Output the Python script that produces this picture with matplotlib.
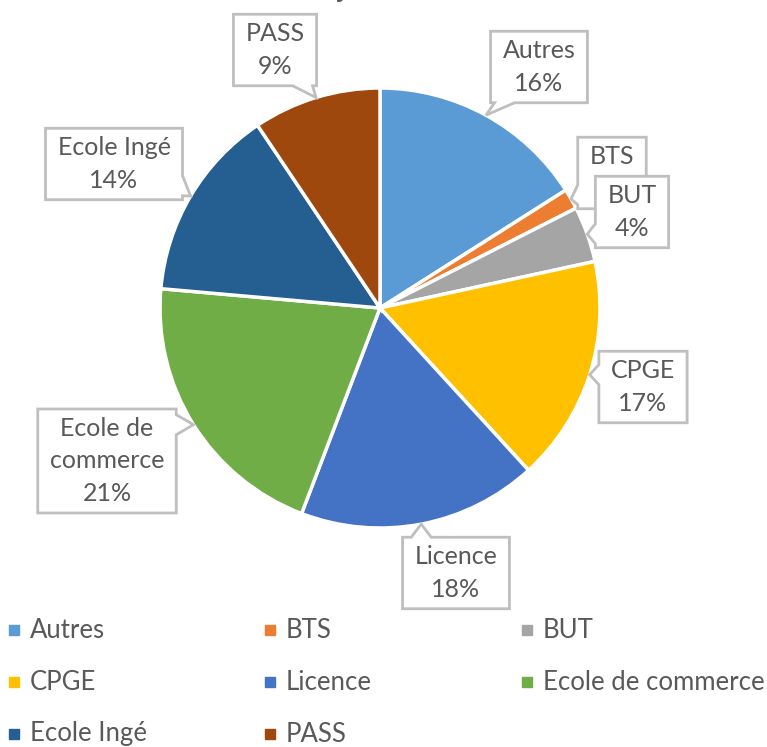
import numpy as np
import matplotlib
matplotlib.use("Agg")
from matplotlib import pyplot as plt
from matplotlib.patches import Polygon

plt.rcParams["font.family"] = ["Lato", "DejaVu Sans"]

# data
categories = ["Autres", "BTS", "BUT", "CPGE", "Licence", "Ecole de commerce", "Ecole Ingé", "PASS"]
values = [16.0, 1.5, 4.1, 16.6, 17.6, 20.6, 14.2, 9.4]
label_names = ["Autres", "BTS", "BUT", "CPGE", "Licence", "Ecole de\ncommerce", "Ecole Ingé", "PASS"]
colors = ["#5B9BD5", "#ED7D31", "#A5A5A5", "#FFC000", "#4472C4", "#70AD47", "#255E91", "#9E480E"]
title = "juin 23"

W, H = 767, 747
TEXT = "#595959"
BORDER = "#BFBFBF"

# layout (pixel coords, y from top)
center_px = (380, 308)
radius = 220
box_px = [(539, 67), (612, 173), (632, 212), (643, 387), (456, 573), (107, 461), (114, 164), (275, 50)]
legend_px = [(14, 630), (270, 630), (527, 630),
             (14, 682), (270, 682), (527, 682),
             (14, 734), (270, 734)]


def to_data(p):
    return p[0], H - p[1]


def callout_poly(x0, y0, x1, y1, tip, bw=20, m=4):
    tx, ty = tip
    dx = tx - min(max(tx, x0), x1)
    dy = ty - min(max(ty, y0), y1)
    if abs(dx) > abs(dy):
        side = "right" if dx > 0 else "left"
        s = min(max(ty - bw / 2, y0 + m), y1 - m - bw)
    else:
        side = "top" if dy > 0 else "bottom"
        s = min(max(tx - bw / 2, x0 + m), x1 - m - bw)
    pts = [(x0, y0)]
    if side == "bottom":
        pts += [(s, y0), tip, (s + bw, y0)]
    pts.append((x1, y0))
    if side == "right":
        pts += [(x1, s), tip, (x1, s + bw)]
    pts.append((x1, y1))
    if side == "top":
        pts += [(s + bw, y1), tip, (s, y1)]
    pts.append((x0, y1))
    if side == "left":
        pts += [(x0, s + bw), tip, (x0, s)]
    return pts


fig = plt.figure(figsize=(W / 100, H / 100), dpi=100)
ax = fig.add_axes([0, 0, 1, 1])

cx, cy = to_data(center_px)
wedges, _ = ax.pie(values, colors=colors, startangle=90, counterclock=False,
                   center=(cx, cy), radius=radius,
                   wedgeprops=dict(edgecolor="white", linewidth=2.5))

ax.set_xlim(0, W)
ax.set_ylim(0, H)
ax.set_aspect("equal")
ax.axis("off")

# callout texts
total = sum(values)
labels = []
for i, (name, v) in enumerate(zip(label_names, values)):
    bx, by = to_data(box_px[i])
    t = ax.text(bx, by, f"{name}\n{v / total * 100:.0f}%", ha="center", va="center",
                fontsize=18, color=TEXT, linespacing=1.5, zorder=10 + 2 * i)
    labels.append(t)

fig.canvas.draw()
renderer = fig.canvas.get_renderer()
inv = ax.transData.inverted()
for i, (w, t) in enumerate(zip(wedges, labels)):
    mid = np.deg2rad((w.theta1 + w.theta2) / 2)
    tip = (cx + radius * np.cos(mid), cy + radius * np.sin(mid))
    bb = t.get_window_extent(renderer).transformed(inv)
    pts = callout_poly(bb.x0 - 12, bb.y0 - 8, bb.x1 + 12, bb.y1 + 8, tip)
    ax.add_patch(Polygon(pts, closed=True, fc="white", ec=BORDER, lw=2,
                         joinstyle="miter", zorder=9 + 2 * i))

# legend
for (x, y), name, c in zip(legend_px, categories, colors):
    lx, ly = to_data((x, y))
    ax.plot([lx], [ly], marker="s", markersize=6.5, color=c, linestyle="none")
    ax.text(lx + 16, ly, name, ha="left", va="center", fontsize=18.5, color=TEXT)

# title (cut at the top of the image, as in the original)
ax.text(380, H + 3, title, ha="center", va="baseline", fontsize=20, fontweight="bold", color=TEXT)

fig.savefig("out.png", dpi=100)
